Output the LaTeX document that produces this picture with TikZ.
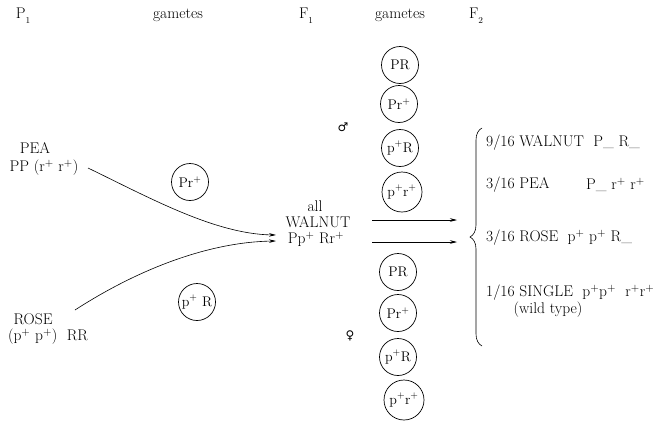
\documentclass[tikz,border=0pt]{standalone}
\usepackage{fontspec}
\newfontfamily\symfont{DejaVu Sans}
\usetikzlibrary{arrows.meta,decorations.pathreplacing}
\newcommand{\sps}{\textsuperscript{+}}
\newcommand{\subone}[1]{\raisebox{-5pt}{\small #1}}
\begin{document}
\begin{tikzpicture}[x=1pt,y=-1pt,
  txt/.style={font=\fontsize{15.5}{17}\selectfont, inner sep=0pt},
  gam/.style={draw, circle, minimum size=37pt, inner sep=0pt, font=\fontsize{14}{16}\selectfont, line width=0.7pt},
  arr/.style={-{Stealth[length=7pt,width=3.5pt]}, line width=0.6pt}]
\useasboundingbox (0,0) rectangle (671,423);
% headers
\node[txt] (p1) at (23,16) {P\subone{1}};
\node[txt] (g1) at (178,15) {gametes};
\node[txt] (f1) at (306,16) {F\subone{1}};
\node[txt] (g2) at (400,15) {gametes};
\node[txt] (f2) at (476,16) {F\subone{2}};
% parents
\node[txt] (pea) at (35,148) {PEA};
\node[txt] (peag) at (44,168) {PP (r\sps\ r\sps)};
\node[txt] (rose) at (33,319) {ROSE};
\node[txt] (roseg) at (48,337) {(p\sps\ p\sps)\ \ RR};
% parental gametes
\node[gam] (gPr) at (190,182) {Pr\sps};
\node[gam] (gpR) at (197,302) {p\sps\ R};
% F1
\node[txt] (f1a) at (315,206) {all};
\node[txt] (f1b) at (318,222) {WALNUT};
\node[txt] (f1c) at (316,239) {Pp\sps\ Rr\sps};
\coordinate (in1) at (276,235);
\coordinate (in2) at (276,241);
\coordinate (s1) at (88,168);
\coordinate (s2) at (75,310);
\draw[arr] (s1) .. controls (150,198) and (215,234) .. (in1);
\draw[arr] (s2) .. controls (140,268) and (210,242) .. (in2);
% sex symbols
\node[font=\symfont\fontsize{12}{14}\selectfont, inner sep=0pt] (male) at (343,127) {♂};
\node[font=\symfont\fontsize{12}{14}\selectfont, inner sep=0pt] (female) at (350,336) {♀};
% F1 gametes
\node[gam] (a1) at (400,65) {PR};
\node[gam] (a2) at (399,104) {Pr\sps};
\node[gam] (a3) at (400,148) {p\sps R};
\node[gam, minimum size=40pt] (a4) at (402,192) {p\sps r\sps};
\node[gam] (b1) at (398,272) {PR};
\node[gam] (b2) at (398,313) {Pr\sps};
\node[gam] (b3) at (398,357) {p\sps R};
\node[gam, minimum size=40pt] (b4) at (404,400) {p\sps r\sps};
% arrows to F2
\coordinate (o1) at (372,220);
\coordinate (o2) at (372,242);
\coordinate (e1) at (457,220);
\coordinate (e2) at (457,242);
\draw[arr] (o1) -- (e1);
\draw[arr] (o2) -- (e2);
% brace
\coordinate (bb) at (482,346);
\coordinate (bt) at (482,128);
\draw[line width=0.6pt, decorate, decoration={brace, amplitude=12pt}] (bb) -- (bt);
% F2 rows
\node[txt, anchor=west] (r1) at (486,143) {9/16 WALNUT\ \ P\_\ R\_};
\node[txt, anchor=west] (r2) at (486,185) {3/16 PEA};
\node[txt, anchor=west] (r2g) at (586,185) {P\_\ r\sps\ r\sps};
\node[txt, anchor=west] (r3) at (486,238) {3/16 ROSE\ \ p\sps\ p\sps\ R\_};
\node[txt, anchor=west] (r4) at (486,293) {1/16 SINGLE\ \ p\sps p\sps\ \ r\sps r\sps};
\node[txt] (r4b) at (548,310) {(wild type)};
\end{tikzpicture}
\end{document}
